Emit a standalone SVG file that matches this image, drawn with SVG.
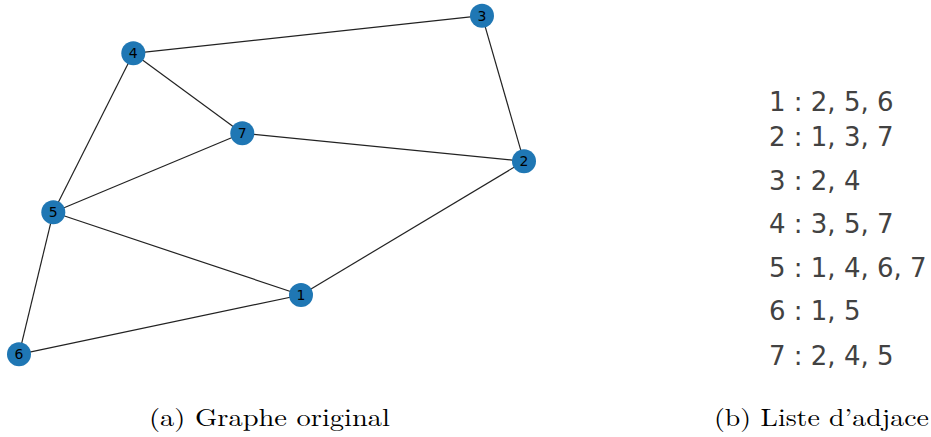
<svg xmlns="http://www.w3.org/2000/svg" width="931" height="437" viewBox="0 0 931 437">
<style>
.edge{stroke:#222;stroke-width:1.2;fill:none}
.node circle{fill:#1f77b4}
.node text{font-family:"DejaVu Sans",sans-serif;font-size:14px;fill:#000;text-anchor:middle;dominant-baseline:central}
.adj{font-family:"DejaVu Sans",sans-serif;font-size:26px;fill:#424242}
.cap{font-family:"Latin Modern Roman","Liberation Serif",serif;font-size:24px;fill:#000}
</style>
<rect width="931" height="437" fill="#fff"/>
<g id="edges">
<line class="edge" x1="133.3" y1="53.3" x2="482" y2="15.7"/>
<line class="edge" x1="133.3" y1="53.3" x2="242.3" y2="133.3"/>
<line class="edge" x1="133.3" y1="53.3" x2="53.3" y2="212.3"/>
<line class="edge" x1="242.3" y1="133.3" x2="53.3" y2="212.3"/>
<line class="edge" x1="242.3" y1="133.3" x2="524" y2="161.3"/>
<line class="edge" x1="482" y1="15.7" x2="524" y2="161.3"/>
<line class="edge" x1="524" y1="161.3" x2="301" y2="295"/>
<line class="edge" x1="53.3" y1="212.3" x2="301" y2="295"/>
<line class="edge" x1="53.3" y1="212.3" x2="19" y2="354.3"/>
<line class="edge" x1="19" y1="354.3" x2="301" y2="295"/>
</g>
<g id="n1" class="node"><circle cx="301" cy="295" r="12"/><text x="301" y="295">1</text></g>
<g id="n2" class="node"><circle cx="524" cy="161.3" r="12"/><text x="524" y="161.3">2</text></g>
<g id="n3" class="node"><circle cx="482" cy="15.7" r="12"/><text x="482" y="15.7">3</text></g>
<g id="n4" class="node"><circle cx="133.3" cy="53.3" r="12"/><text x="133.3" y="53.3">4</text></g>
<g id="n5" class="node"><circle cx="53.3" cy="212.3" r="12"/><text x="53.3" y="212.3">5</text></g>
<g id="n6" class="node"><circle cx="19" cy="354.3" r="12"/><text x="19" y="354.3">6</text></g>
<g id="n7" class="node"><circle cx="242.3" cy="133.3" r="12"/><text x="242.3" y="133.3">7</text></g>
<g id="adjacency">
<text class="adj" x="769" y="110.7">1 : 2, 5, 6</text>
<text class="adj" x="769" y="146">2 : 1, 3, 7</text>
<text class="adj" x="769" y="190">3 : 2, 4</text>
<text class="adj" x="769" y="233.3">4 : 3, 5, 7</text>
<text class="adj" x="769" y="276.7">5 : 1, 4, 6, 7</text>
<text class="adj" x="769" y="320">6 : 1, 5</text>
<text class="adj" x="769" y="365">7 : 2, 4, 5</text>
</g>
<g id="captions">
<text class="cap" x="149" y="425.7" textLength="241" lengthAdjust="spacingAndGlyphs">(a) Graphe original</text>
<text class="cap" x="714" y="425.7" textLength="215" lengthAdjust="spacingAndGlyphs">(b) Liste d’adjace</text>
</g>
</svg>
